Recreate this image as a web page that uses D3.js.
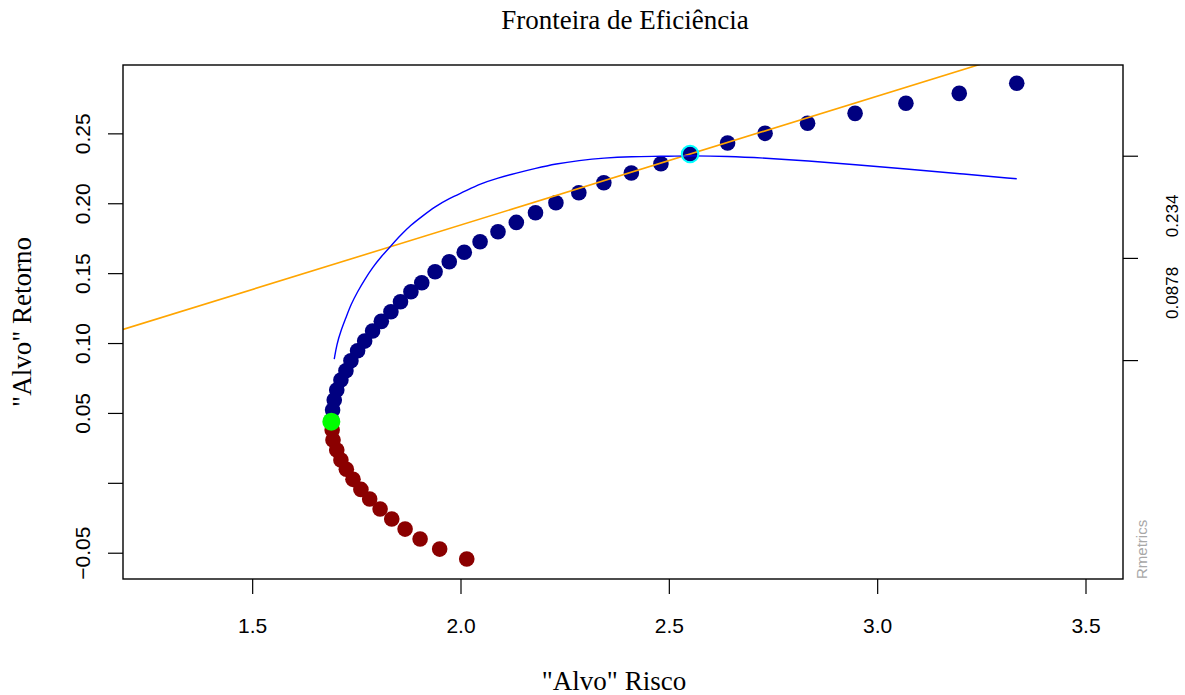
<!DOCTYPE html>
<html>
<head>
<meta charset="utf-8">
<script src="https://cdn.jsdelivr.net/npm/d3@7"></script>
<style>
  body { margin: 0; background: #fff; }
</style>
</head>
<body>
<div id="chart"></div>
<script>
// efficient part of the frontier (navy), from the top end down
const riskEfficient = [3.335, 3.197, 3.069, 2.947, 2.833, 2.731, 2.641, 2.551, 2.481, 2.410,
  2.344, 2.284, 2.229, 2.180, 2.134, 2.090, 2.047, 2.009, 1.973, 1.939,
  1.907, 1.881, 1.856, 1.833, 1.810, 1.789, 1.770, 1.753, 1.737, 1.725,
  1.713, 1.703, 1.697, 1.693, 1.691];
const returnEfficient = [0.2858, 0.2786, 0.2715, 0.2643, 0.2572, 0.2500, 0.2431, 0.2352, 0.2283, 0.2216,
  0.2147, 0.2075, 0.2004, 0.1932, 0.1863, 0.1796, 0.1725, 0.1649, 0.1582, 0.1510,
  0.1431, 0.1367, 0.1295, 0.1224, 0.1155, 0.1086, 0.1014, 0.0945, 0.0873, 0.0802,
  0.0735, 0.0664, 0.0592, 0.0521, 0.0449];

// inefficient part (dark red), from the top down
const riskInefficient = [1.692, 1.694, 1.703, 1.713, 1.726, 1.742, 1.761, 1.782, 1.807, 1.835,
  1.867, 1.903, 1.950, 2.015];
const returnInefficient = [0.0378, 0.0306, 0.0235, 0.0163, 0.0097, 0.0025, -0.0047, -0.0116, -0.0187, -0.0259,
  -0.0331, -0.0402, -0.0474, -0.0545];

const minVariance = [1.690, 0.0437];   // risk, return
const tangency = [2.551, 0.2352];

// the sharpe ratio curve is drawn for the upper 33 efficient points
const sharpeCount = 33;

const xTicks = [1.5, 2.0, 2.5, 3.0, 3.5];
const yTicks = [-0.05, 0, 0.05, 0.10, 0.15, 0.20, 0.25];
const yTickLabels = ["\u22120.05", "", "0.05", "0.10", "0.15", "0.20", "0.25"];
const rightTicks = [0.0878, 0.1609, 0.234];
const rightLabels = ["0.234", "0.0878"];

const W = 1185, H = 695;
const m = { left: 123, right: 1123, top: 65, bottom: 579 };

const serif = "'Liberation Serif', 'Times New Roman', serif";
const sans = "'Liberation Sans', Arial, sans-serif";

const svg = d3.select("#chart").append("svg")
    .attr("width", W)
    .attr("height", H);

const x = d3.scaleLinear().domain([1.19, 3.59]).range([m.left, m.right]);
const y = d3.scaleLinear().domain([-0.0688, 0.2989]).range([m.bottom, m.top]);

svg.append("defs").append("clipPath").attr("id", "plotclip")
  .append("rect")
    .attr("x", m.left).attr("y", m.top)
    .attr("width", m.right - m.left).attr("height", m.bottom - m.top);

// x axis
const gx = svg.append("g")
    .attr("transform", "translate(0," + m.bottom + ")")
    .call(d3.axisBottom(x).tickValues(xTicks).tickSize(15).tickPadding(24).tickFormat(d3.format(".1f")));
gx.select(".domain").remove();
gx.selectAll("line").attr("stroke", "#000").attr("stroke-width", 1.2);
gx.selectAll("text")
    .attr("fill", "#000")
    .style("font-family", sans)
    .style("font-size", "21px");

// y axis (left), labels turned like in R
const gy = svg.append("g")
    .attr("transform", "translate(" + m.left + ",0)")
    .call(d3.axisLeft(y).tickValues(yTicks).tickSize(15)
      .tickFormat((d, i) => yTickLabels[i]));
gy.select(".domain").remove();
gy.selectAll("line").attr("stroke", "#000").attr("stroke-width", 1.2);
gy.selectAll("text")
    .attr("x", 0)
    .attr("dy", "0.35em")
    .attr("transform", "translate(-40,0) rotate(-90)")
    .attr("text-anchor", "middle")
    .attr("fill", "#000")
    .style("font-family", sans)
    .style("font-size", "21px");

// right axis for the sharpe ratio
const gr = svg.append("g")
    .attr("transform", "translate(" + m.right + ",0)")
    .call(d3.axisRight(y).tickValues(rightTicks).tickSize(15).tickFormat(""));
gr.select(".domain").remove();
gr.selectAll("line").attr("stroke", "#000").attr("stroke-width", 1.2);

const midY = y(rightTicks[1]);
svg.append("g").selectAll("text")
  .data(rightLabels)
  .join("text")
    .attr("transform", (d, i) => "translate(1172," + (midY + (i === 0 ? -42 : 35)) + ") rotate(-90)")
    .attr("text-anchor", "middle")
    .attr("dy", "0.35em")
    .style("font-family", sans)
    .style("font-size", "17px")
    .text(d => d);

// frontier points
const plot = svg.append("g");

plot.selectAll(".ineff")
  .data(riskInefficient.map((r, i) => [r, returnInefficient[i]]))
  .join("circle")
    .attr("class", "ineff")
    .attr("cx", d => x(d[0]))
    .attr("cy", d => y(d[1]))
    .attr("r", 7.8)
    .attr("fill", "#8B0000");

plot.selectAll(".eff")
  .data(riskEfficient.map((r, i) => [r, returnEfficient[i]]))
  .join("circle")
    .attr("class", "eff")
    .attr("cx", d => x(d[0]))
    .attr("cy", d => y(d[1]))
    .attr("r", 7.8)
    .attr("fill", "#000080");

// minimum variance point
plot.append("circle")
    .attr("cx", x(minVariance[0]))
    .attr("cy", y(minVariance[1]))
    .attr("r", 9)
    .attr("fill", "#00FF00");

// tangency line through origin
const slope = tangency[1] / tangency[0];
const xd = x.domain();
plot.append("line")
    .attr("clip-path", "url(#plotclip)")
    .attr("x1", x(xd[0])).attr("y1", y(slope * xd[0]))
    .attr("x2", x(xd[1])).attr("y2", y(slope * xd[1]))
    .attr("stroke", "#FFA500")
    .attr("stroke-width", 1.6);

// sharpe ratio curve, scaled to the right axis
const sharpe = riskEfficient.slice(0, sharpeCount).map((r, i) => [r, returnEfficient[i] / r]);
const maxSharpe = d3.max(sharpe, d => d[1]);
const curve = sharpe.map(d => [d[0], d[1] / maxSharpe * d3.max(rightTicks)])
    .sort((a, b) => a[0] - b[0]);
plot.append("path")
    .datum(curve)
    .attr("fill", "none")
    .attr("stroke", "#0000FF")
    .attr("stroke-width", 1.4)
    .attr("d", d3.line().x(d => x(d[0])).y(d => y(d[1])).curve(d3.curveBasis));

// tangency portfolio
plot.append("circle")
    .attr("cx", x(tangency[0]))
    .attr("cy", y(tangency[1]))
    .attr("r", 8.3)
    .attr("fill", "none")
    .attr("stroke", "#00FFFF")
    .attr("stroke-width", 2);

// box
svg.append("rect")
    .attr("x", m.left).attr("y", m.top)
    .attr("width", m.right - m.left).attr("height", m.bottom - m.top)
    .attr("fill", "none")
    .attr("stroke", "#000")
    .attr("stroke-width", 1.4);

// titles
svg.append("text")
    .attr("x", (m.left + m.right) / 2 + 2).attr("y", 29)
    .attr("text-anchor", "middle")
    .style("font-family", serif)
    .style("font-size", "27px")
    .text("Fronteira de Eficiência");

svg.append("text")
    .attr("x", 614).attr("y", 690)
    .attr("text-anchor", "middle")
    .style("font-family", serif)
    .style("font-size", "27px")
    .text("\"Alvo\" Risco");

svg.append("text")
    .attr("transform", "translate(31," + (m.top + m.bottom) / 2 + ") rotate(-90)")
    .attr("text-anchor", "middle")
    .style("font-family", serif)
    .style("font-size", "27px")
    .text("\"Alvo\" Retorno");

svg.append("text")
    .attr("transform", "translate(1147," + m.bottom + ") rotate(-90)")
    .attr("text-anchor", "start")
    .attr("fill", "#a8a8a8")
    .style("font-family", sans)
    .style("font-size", "15px")
    .text("Rmetrics");
</script>
</body>
</html>
